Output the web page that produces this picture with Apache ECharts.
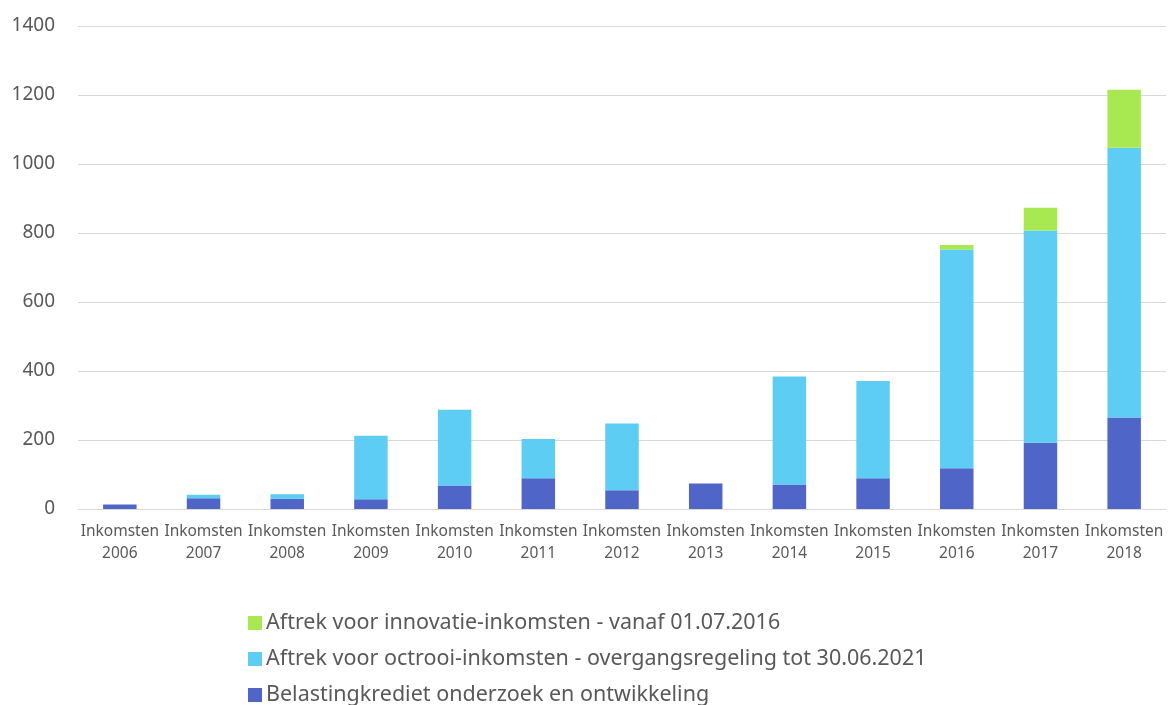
<!DOCTYPE html>
<html>
<head>
<meta charset="utf-8">
<script src="https://cdn.jsdelivr.net/npm/echarts@6/dist/echarts.min.js"></script>
<style>html,body{margin:0;padding:0;background:#fff}#c{width:1168px;height:705px}</style>
</head>
<body>
<div id="c"></div>
<script>
const categories = ["Inkomsten\n2006","Inkomsten\n2007","Inkomsten\n2008","Inkomsten\n2009","Inkomsten\n2010","Inkomsten\n2011","Inkomsten\n2012","Inkomsten\n2013","Inkomsten\n2014","Inkomsten\n2015","Inkomsten\n2016","Inkomsten\n2017","Inkomsten\n2018"];
const belastingkrediet = [13, 31, 30, 28, 68, 89, 54, 74, 71, 89, 118, 192, 265];
const octrooi = [0, 10, 13, 184, 220, 114, 194, 0, 313, 282, 634, 615, 782];
const innovatie = [0, 0, 0, 0, 0, 0, 0, 0, 0, 0, 13, 66, 168];
const seriesNames = [
  "Belastingkrediet onderzoek en ontwikkeling",
  "Aftrek voor octrooi-inkomsten - overgangsregeling tot 30.06.2021",
  "Aftrek voor innovatie-inkomsten - vanaf 01.07.2016"
];
const yTicks = {min: 0, max: 1400, interval: 200};

const font = "'Noto Sans', 'Open Sans', sans-serif";
const chart = echarts.init(document.getElementById('c'), null, {renderer: 'canvas'});
chart.setOption({
  animation: false,
  textStyle: {fontFamily: font},
  grid: {left: 78, right: 2, top: 26, bottom: 196, containLabel: false},
  legend: {
    orient: 'vertical', left: 248, top: 612, height: 140, padding: 0,
    itemWidth: 14, itemHeight: 14, itemGap: 14,
    icon: 'rect',
    data: [seriesNames[2], seriesNames[1], seriesNames[0]],
    textStyle: {fontFamily: font, fontSize: 21.5, lineHeight: 21.5, color: '#595959', padding: [0,0,0,-1]}
  },
  xAxis: {
    type: 'category', data: categories,
    axisLine: {show: true, lineStyle: {color: '#d9d9d9', width: 1}},
    axisTick: {show: false},
    axisLabel: {interval: 0, color: '#595959', fontSize: 15.5, lineHeight: 22, margin: 12, fontFamily: font}
  },
  yAxis: {
    type: 'value', min: yTicks.min, max: yTicks.max, interval: yTicks.interval,
    axisLine: {show: false}, axisTick: {show: false},
    splitLine: {lineStyle: {color: '#d9d9d9', width: 1}},
    axisLabel: {color: '#595959', fontSize: 19, margin: 23, fontFamily: font, formatter: v => String(v)}
  },
  series: [
    {name: seriesNames[0], type: 'bar', stack: 't', data: belastingkrediet, barWidth: '40%', itemStyle: {color: '#5065c8'}},
    {name: seriesNames[1], type: 'bar', stack: 't', data: octrooi, barWidth: '40%', itemStyle: {color: '#5ecdf3'}},
    {name: seriesNames[2], type: 'bar', stack: 't', data: innovatie, barWidth: '40%', itemStyle: {color: '#a8e952'}}
  ]
});
</script>
</body>
</html>
